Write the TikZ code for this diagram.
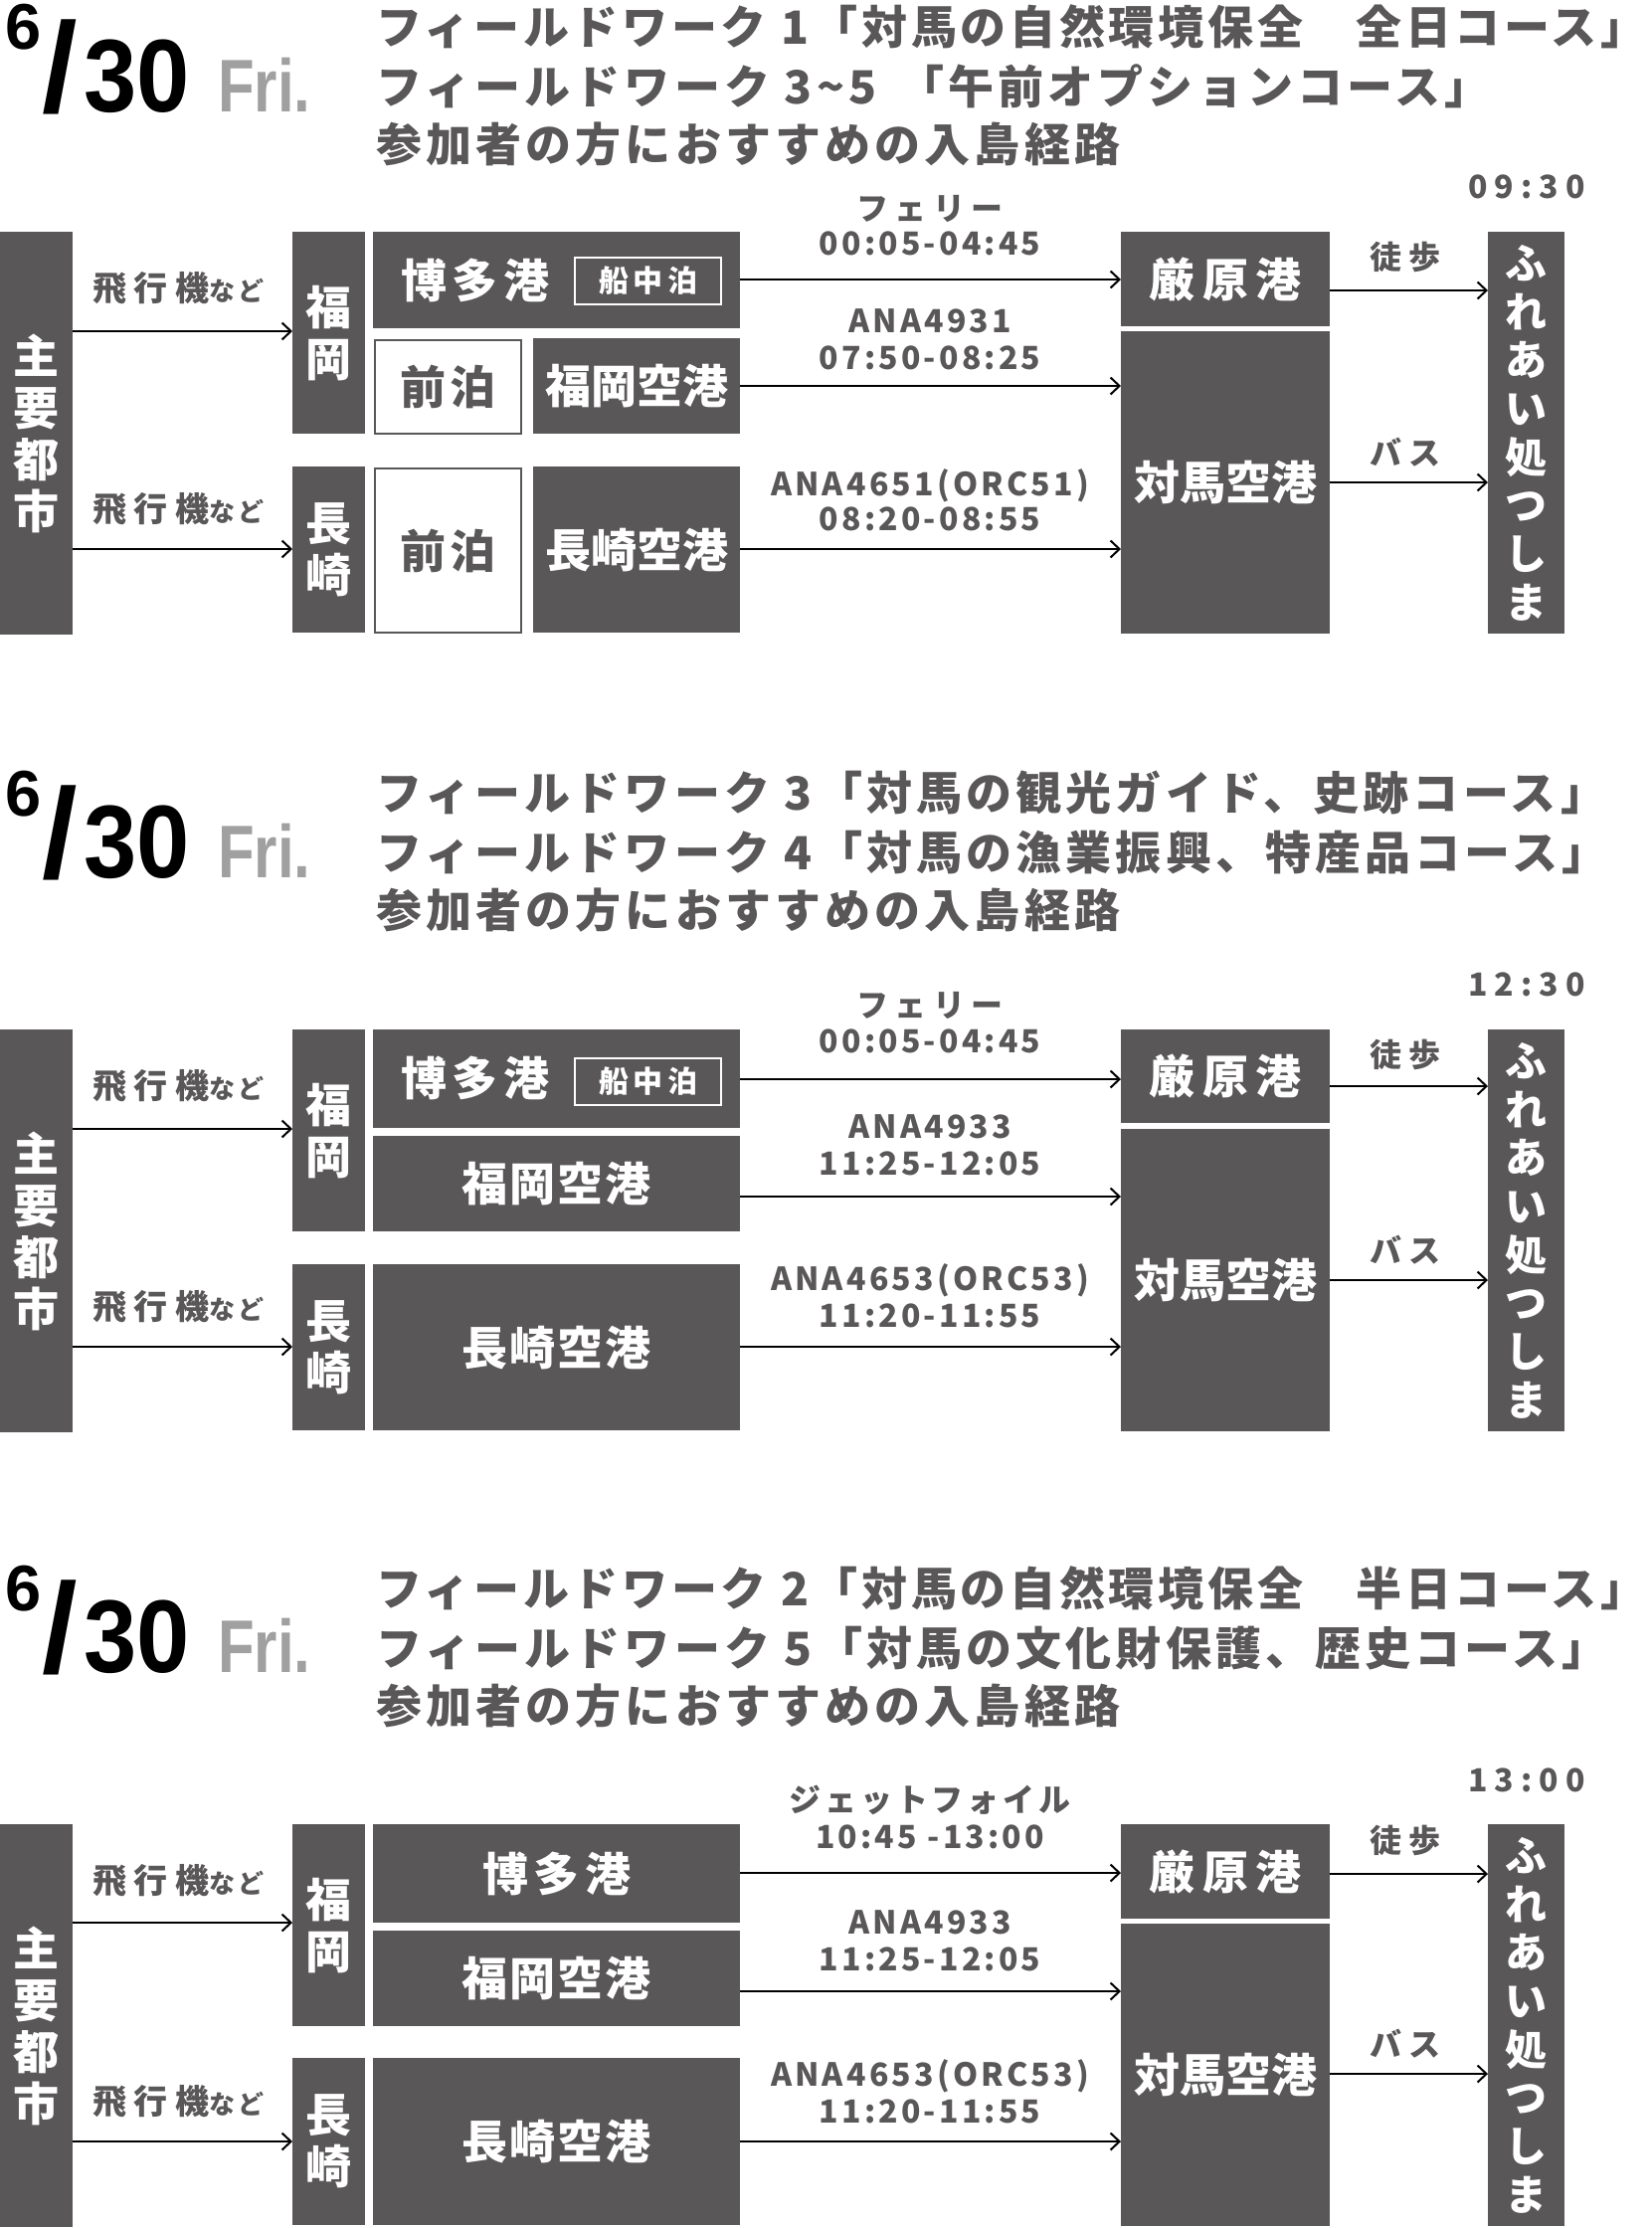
\documentclass[tikz,border=0pt]{standalone}
\usepackage{fontspec}
\setmainfont{Noto Sans CJK JP}
\newfontfamily\datefont{Liberation Sans}
\newfontfamily\datenum{Liberation Sans}[FakeStretch=0.92]
\newfontfamily\datecond{Liberation Sans}[FakeStretch=0.8]
\usetikzlibrary{arrows.meta}
\definecolor{bx}{RGB}{89,87,87}
\definecolor{frigray}{RGB}{160,160,160}
\newcommand\jfs[2]{\fontsize{#1}{#2}\selectfont}
\newcommand\lsp[1]{\addfontfeatures{LetterSpace=#1}}
\newcommand\planelab{\lsp{22}飛行機{\jfs{26}{26}\lsp{14}など}}
\tikzset{
  x=1pt, y=-1pt,
  gbox/.style={fill=bx, draw=none, inner sep=0pt, anchor=north west, text=white, font=\bfseries\jfs{46}{52}, align=center},
  wbox/.style={fill=white, draw=bx, line width=2pt, inner sep=0pt, anchor=north west, text=bx, font=\bfseries\jfs{46}{52}},
  boxtxt/.style={inner sep=0pt, text=white, font=\bfseries\jfs{46}{52}},
  senbox/.style={draw=white, line width=2pt, inner sep=0pt, minimum width=147pt, minimum height=47pt, text=white, font=\bfseries\jfs{30}{30}},
  arr/.style={draw=black, line width=2pt, -{Straight Barb[length=9pt,width=17pt]}},
  lab/.style={inner sep=0pt, text=bx, font=\bfseries\jfs{32}{36}},
  plane/.style={inner sep=0pt, anchor=west, text=bx, font=\bfseries\jfs{34}{36}},
  ttl/.style={inner sep=0pt, anchor=west, text=bx, font=\bfseries\jfs{46}{52}},
  dsix/.style={inner sep=0pt, anchor=base west, font=\datefont\bfseries\jfs{65}{65}},
  dslash/.style={inner sep=0pt, anchor=base west, font=\datefont\bfseries\jfs{128}{128}},
  dnum/.style={inner sep=0pt, anchor=base west, font=\datenum\bfseries\jfs{104}{104}},
  dfri/.style={inner sep=0pt, anchor=base west, text=frigray, font=\datecond\bfseries\jfs{75}{75}},
  tm/.style={inner sep=0pt, text=bx, font=\bfseries\jfs{32}{36}},
}
\begin{document}
\begin{tikzpicture}
\useasboundingbox (0,0) rectangle (1661,2240);

% ================= Section 1 =================
\begin{scope}[shift={(0,233)}]
\node[dsix] (a6) at (5,-183) {6};
\node[dslash] (aSl) at (42,-121) {/};
\node[dnum] (a30) at (84,-121) {30};
\node[dfri] (aFri) at (219,-121) {Fri.};
\node[ttl] (aT1) at (378,-206) {\lsp{8}フィールドワーク 1「対馬の自然環境保全　全日コース」};
\node[ttl] (aT2) at (378,-146) {\lsp{9}フィールドワーク 3\textasciitilde5\hspace{22pt}「午前オプションコース」};
\node[ttl] (aT3) at (378,-88) {\lsp{9}参加者の方におすすめの入島経路};

\node[gbox, minimum width=73pt, minimum height=405pt] (aCity) at (0,0) {主\\要\\都\\市};
\node[gbox, minimum width=73pt, minimum height=203pt] (aFuk) at (294,0) {福\\岡};
\node[gbox, minimum width=73pt, minimum height=167pt] (aNag) at (294,236) {長\\崎};
\node[gbox, minimum width=369pt, minimum height=97pt] (aHak) at (375,0) {};
\node[boxtxt] (aHakT) at (478,49) {\lsp{12}博多港};
\node[senbox] (aSen) at (651.5,49.5) {\lsp{15}船中泊};
\node[wbox, minimum width=147pt, minimum height=94pt] (aMae1) at (376,108) {\lsp{10}前泊};
\node[gbox, minimum width=208pt, minimum height=96pt] (aFukAir) at (536,107) {福岡空港};
\node[wbox, minimum width=147pt, minimum height=165pt] (aMae2) at (376,237) {\lsp{10}前泊};
\node[gbox, minimum width=208pt, minimum height=167pt] (aNagAir) at (536,236) {長崎空港};
\node[gbox, minimum width=210pt, minimum height=95pt] (aIzu) at (1127,0) {\lsp{16}厳原港};
\node[gbox, minimum width=210pt, minimum height=304pt] (aTsu) at (1127,100) {対馬空港};
\node[gbox, minimum width=77pt, minimum height=404pt, font=\bfseries\jfs{42}{48.7}] (aFure) at (1496,0) {ふ\\れ\\あ\\い\\処\\つ\\し\\ま};

\node[plane] (aP1) at (93,57) {\planelab};
\node[plane] (aP2) at (93,279) {\planelab};
\node[lab] (aL1) at (935,-23) {\lsp{20}フェリー};
\node[lab] (aL2) at (935,12) {\lsp{10}00:05-04:45};
\node[lab] (aL3) at (935,90) {\lsp{10}ANA4931};
\node[lab] (aL4) at (935,127) {\lsp{10}07:50-08:25};
\node[lab] (aL5) at (935,255) {\lsp{10}ANA4651(ORC51)};
\node[lab] (aL6) at (935,289) {\lsp{10}08:20-08:55};
\node[lab] (aW) at (1413,25) {\lsp{20}徒歩};
\node[lab] (aB) at (1413,222) {\lsp{20}バス};
\node[tm] (aTime) at (1535,-45) {\lsp{22}09:30};

\draw[arr] (aCity.east |- 0,100) -- (aFuk.west |- 0,100);
\draw[arr] (aCity.east |- 0,319) -- (aNag.west |- 0,319);
\draw[arr] (aHak.east |- 0,48) -- (aIzu.west |- 0,48);
\draw[arr] (aFukAir.east |- 0,155) -- (aTsu.west |- 0,155);
\draw[arr] (aNagAir.east |- 0,319) -- (aTsu.west |- 0,319);
\draw[arr] (aIzu.east |- 0,59) -- (aFure.west |- 0,59);
\draw[arr] (aTsu.east |- 0,252) -- (aFure.west |- 0,252);
\end{scope}

% ================= Section 2 =================
\begin{scope}[shift={(0,1035)}]
\node[dsix] (b6) at (5,-215) {6};
\node[dslash] (bSl) at (42,-153) {/};
\node[dnum] (b30) at (84,-153) {30};
\node[dfri] (bFri) at (219,-153) {Fri.};
\node[ttl] (bT1) at (378,-238) {\lsp{9}フィールドワーク 3「対馬の観光ガイド、史跡コース」};
\node[ttl] (bT2) at (378,-178) {\lsp{9}フィールドワーク 4「対馬の漁業振興、特産品コース」};
\node[ttl] (bT3) at (378,-120) {\lsp{9}参加者の方におすすめの入島経路};

\node[gbox, minimum width=73pt, minimum height=405pt] (bCity) at (0,0) {主\\要\\都\\市};
\node[gbox, minimum width=73pt, minimum height=203pt] (bFuk) at (294,0) {福\\岡};
\node[gbox, minimum width=73pt, minimum height=167pt] (bNag) at (294,236) {長\\崎};
\node[gbox, minimum width=369pt, minimum height=99pt] (bHak) at (375,0) {};
\node[boxtxt] (bHakT) at (478,49) {\lsp{12}博多港};
\node[senbox] (bSen) at (651.5,52) {\lsp{15}船中泊};
\node[gbox, minimum width=369pt, minimum height=96pt] (bFukAir) at (375,107) {\lsp{4}福岡空港};
\node[gbox, minimum width=369pt, minimum height=167pt] (bNagAir) at (375,236) {\lsp{4}長崎空港};
\node[gbox, minimum width=210pt, minimum height=94pt] (bIzu) at (1127,0) {\lsp{16}厳原港};
\node[gbox, minimum width=210pt, minimum height=304pt] (bTsu) at (1127,100) {対馬空港};
\node[gbox, minimum width=77pt, minimum height=404pt, font=\bfseries\jfs{42}{48.7}] (bFure) at (1496,0) {ふ\\れ\\あ\\い\\処\\つ\\し\\ま};

\node[plane] (bP1) at (93,57) {\planelab};
\node[plane] (bP2) at (93,279) {\planelab};
\node[lab] (bL1) at (935,-24) {\lsp{20}フェリー};
\node[lab] (bL2) at (935,12) {\lsp{10}00:05-04:45};
\node[lab] (bL3) at (935,98) {\lsp{10}ANA4933};
\node[lab] (bL4) at (935,135) {\lsp{10}11:25-12:05};
\node[lab] (bL5) at (935,252) {\lsp{10}ANA4653(ORC53)};
\node[lab] (bL6) at (935,288) {\lsp{10}11:20-11:55};
\node[lab] (bW) at (1413,25) {\lsp{20}徒歩};
\node[lab] (bB) at (1413,222) {\lsp{20}バス};
\node[tm] (bTime) at (1535,-45) {\lsp{22}12:30};

\draw[arr] (bCity.east |- 0,100) -- (bFuk.west |- 0,100);
\draw[arr] (bCity.east |- 0,319) -- (bNag.west |- 0,319);
\draw[arr] (bHak.east |- 0,50) -- (bIzu.west |- 0,50);
\draw[arr] (bFukAir.east |- 0,168) -- (bTsu.west |- 0,168);
\draw[arr] (bNagAir.east |- 0,319) -- (bTsu.west |- 0,319);
\draw[arr] (bIzu.east |- 0,57) -- (bFure.west |- 0,57);
\draw[arr] (bTsu.east |- 0,252) -- (bFure.west |- 0,252);
\end{scope}

% ================= Section 3 =================
\begin{scope}[shift={(0,1834)}]
\node[dsix] (c6) at (5,-215) {6};
\node[dslash] (cSl) at (42,-153) {/};
\node[dnum] (c30) at (84,-153) {30};
\node[dfri] (cFri) at (219,-153) {Fri.};
\node[ttl] (cT1) at (378,-237) {\lsp{8}フィールドワーク 2「対馬の自然環境保全　半日コース」};
\node[ttl] (cT2) at (378,-177) {\lsp{9}フィールドワーク 5「対馬の文化財保護、歴史コース」};
\node[ttl] (cT3) at (378,-119) {\lsp{9}参加者の方におすすめの入島経路};

\node[gbox, minimum width=73pt, minimum height=405pt] (cCity) at (0,0) {主\\要\\都\\市};
\node[gbox, minimum width=73pt, minimum height=203pt] (cFuk) at (294,0) {福\\岡};
\node[gbox, minimum width=73pt, minimum height=168pt] (cNag) at (294,235) {長\\崎};
\node[gbox, minimum width=369pt, minimum height=99pt] (cHak) at (375,0) {\lsp{12}博多港};
\node[gbox, minimum width=369pt, minimum height=96pt] (cFukAir) at (375,107) {\lsp{4}福岡空港};
\node[gbox, minimum width=369pt, minimum height=168pt] (cNagAir) at (375,235) {\lsp{4}長崎空港};
\node[gbox, minimum width=210pt, minimum height=95pt] (cIzu) at (1127,0) {\lsp{16}厳原港};
\node[gbox, minimum width=210pt, minimum height=304pt] (cTsu) at (1127,100) {対馬空港};
\node[gbox, minimum width=77pt, minimum height=404pt, font=\bfseries\jfs{42}{48.7}] (cFure) at (1496,0) {ふ\\れ\\あ\\い\\処\\つ\\し\\ま};

\node[plane] (cP1) at (93,57) {\planelab};
\node[plane] (cP2) at (93,279) {\planelab};
\node[lab] (cL1) at (935,-24) {\lsp{12}ジェットフォイル};
\node[lab] (cL2) at (935,13) {\lsp{10}10:45 -13:00};
\node[lab] (cL3) at (935,99) {\lsp{10}ANA4933};
\node[lab] (cL4) at (935,136) {\lsp{10}11:25-12:05};
\node[lab] (cL5) at (935,253) {\lsp{10}ANA4653(ORC53)};
\node[lab] (cL6) at (935,289) {\lsp{10}11:20-11:55};
\node[lab] (cW) at (1413,16) {\lsp{20}徒歩};
\node[lab] (cB) at (1413,221) {\lsp{20}バス};
\node[tm] (cTime) at (1535,-44) {\lsp{22}13:00};

\draw[arr] (cCity.east |- 0,99) -- (cFuk.west |- 0,99);
\draw[arr] (cCity.east |- 0,319) -- (cNag.west |- 0,319);
\draw[arr] (cHak.east |- 0,49) -- (cIzu.west |- 0,49);
\draw[arr] (cFukAir.east |- 0,168) -- (cTsu.west |- 0,168);
\draw[arr] (cNagAir.east |- 0,319) -- (cTsu.west |- 0,319);
\draw[arr] (cIzu.east |- 0,50) -- (cFure.west |- 0,50);
\draw[arr] (cTsu.east |- 0,251) -- (cFure.west |- 0,251);
\end{scope}
\end{tikzpicture}
\end{document}
